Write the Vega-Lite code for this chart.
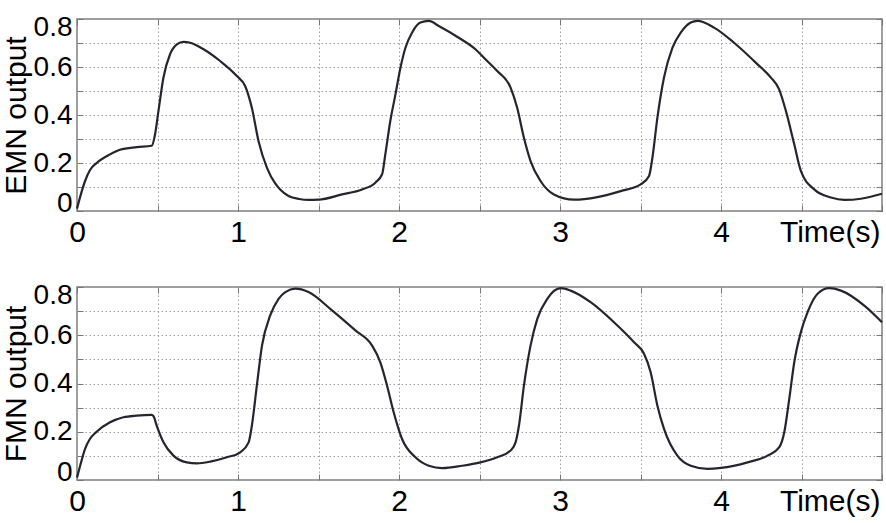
{
  "$schema": "https://vega.github.io/schema/vega-lite/v6.json",
  "padding": {"left": 0, "top": 12, "right": 0, "bottom": 0},
  "bounds": "flush",
  "spacing": 76,
  "background": "white",
  "config": {
    "font": "Liberation Sans",
    "view": {"stroke": "#7f7f7f", "strokeWidth": 1.5},
    "axis": {
      "domain": false,
      "gridColor": "#a0a0a0",
      "gridDash": [1.5, 2.5],
      "gridWidth": 1,
      "tickColor": "#777777",
      "tickSize": -6,
      "labelColor": "#000000",
      "titleColor": "#000000",
      "titleFontWeight": "normal",
      "labelOverlap": false
    }
  },
  "datasets": {
    "emn": [
      {"t": 0, "v": 0.01}, {"t": 0.02, "v": 0.06}, {"t": 0.05, "v": 0.125}, {"t": 0.08, "v": 0.17},
      {"t": 0.122, "v": 0.2}, {"t": 0.205, "v": 0.236}, {"t": 0.267, "v": 0.255}, {"t": 0.371, "v": 0.266},
      {"t": 0.464, "v": 0.272}, {"t": 0.485, "v": 0.32}, {"t": 0.506, "v": 0.417}, {"t": 0.537, "v": 0.556},
      {"t": 0.578, "v": 0.653}, {"t": 0.62, "v": 0.694}, {"t": 0.661, "v": 0.705}, {"t": 0.703, "v": 0.701},
      {"t": 0.786, "v": 0.674}, {"t": 0.889, "v": 0.625}, {"t": 0.993, "v": 0.5625}, {"t": 1.045, "v": 0.52},
      {"t": 1.086, "v": 0.43}, {"t": 1.128, "v": 0.29}, {"t": 1.18, "v": 0.18}, {"t": 1.231, "v": 0.115},
      {"t": 1.262, "v": 0.09}, {"t": 1.314, "v": 0.0625}, {"t": 1.38, "v": 0.05}, {"t": 1.438, "v": 0.046},
      {"t": 1.5, "v": 0.047}, {"t": 1.646, "v": 0.069}, {"t": 1.77, "v": 0.09}, {"t": 1.853, "v": 0.118},
      {"t": 1.895, "v": 0.153}, {"t": 1.915, "v": 0.236}, {"t": 1.946, "v": 0.375}, {"t": 1.978, "v": 0.486},
      {"t": 2.009, "v": 0.597}, {"t": 2.04, "v": 0.68}, {"t": 2.081, "v": 0.743}, {"t": 2.133, "v": 0.785},
      {"t": 2.185, "v": 0.792}, {"t": 2.247, "v": 0.771}, {"t": 2.371, "v": 0.722}, {"t": 2.475, "v": 0.674},
      {"t": 2.537, "v": 0.632}, {"t": 2.61, "v": 0.583}, {"t": 2.693, "v": 0.514}, {"t": 2.734, "v": 0.43},
      {"t": 2.776, "v": 0.305}, {"t": 2.817, "v": 0.208}, {"t": 2.879, "v": 0.125}, {"t": 2.962, "v": 0.069},
      {"t": 3.087, "v": 0.047}, {"t": 3.232, "v": 0.058}, {"t": 3.377, "v": 0.083}, {"t": 3.501, "v": 0.111},
      {"t": 3.553, "v": 0.146}, {"t": 3.574, "v": 0.222}, {"t": 3.605, "v": 0.389}, {"t": 3.646, "v": 0.556},
      {"t": 3.698, "v": 0.68}, {"t": 3.75, "v": 0.743}, {"t": 3.812, "v": 0.785}, {"t": 3.854, "v": 0.792},
      {"t": 3.957, "v": 0.764}, {"t": 4.081, "v": 0.701}, {"t": 4.227, "v": 0.611}, {"t": 4.31, "v": 0.556},
      {"t": 4.361, "v": 0.507}, {"t": 4.403, "v": 0.417}, {"t": 4.455, "v": 0.278}, {"t": 4.496, "v": 0.167},
      {"t": 4.579, "v": 0.09}, {"t": 4.683, "v": 0.056}, {"t": 4.766, "v": 0.046}, {"t": 4.869, "v": 0.051},
      {"t": 5.0, "v": 0.072}
    ],
    "fmn": [
      {"t": 0, "v": 0.01}, {"t": 0.02, "v": 0.06}, {"t": 0.05, "v": 0.129}, {"t": 0.08, "v": 0.17},
      {"t": 0.122, "v": 0.2}, {"t": 0.205, "v": 0.239}, {"t": 0.288, "v": 0.26}, {"t": 0.371, "v": 0.267},
      {"t": 0.464, "v": 0.27}, {"t": 0.475, "v": 0.265}, {"t": 0.495, "v": 0.225}, {"t": 0.537, "v": 0.156},
      {"t": 0.599, "v": 0.101}, {"t": 0.682, "v": 0.073}, {"t": 0.744, "v": 0.069}, {"t": 0.827, "v": 0.076},
      {"t": 0.931, "v": 0.094}, {"t": 1.014, "v": 0.115}, {"t": 1.066, "v": 0.156}, {"t": 1.086, "v": 0.225},
      {"t": 1.117, "v": 0.391}, {"t": 1.149, "v": 0.557}, {"t": 1.2, "v": 0.682}, {"t": 1.252, "v": 0.751},
      {"t": 1.294, "v": 0.779}, {"t": 1.356, "v": 0.793}, {"t": 1.438, "v": 0.779}, {"t": 1.584, "v": 0.703},
      {"t": 1.729, "v": 0.62}, {"t": 1.833, "v": 0.557}, {"t": 1.884, "v": 0.488}, {"t": 1.926, "v": 0.391},
      {"t": 1.967, "v": 0.281}, {"t": 2.019, "v": 0.17}, {"t": 2.102, "v": 0.094}, {"t": 2.185, "v": 0.059},
      {"t": 2.268, "v": 0.049}, {"t": 2.392, "v": 0.059}, {"t": 2.506, "v": 0.073}, {"t": 2.61, "v": 0.094},
      {"t": 2.693, "v": 0.122}, {"t": 2.724, "v": 0.156}, {"t": 2.745, "v": 0.225}, {"t": 2.776, "v": 0.391},
      {"t": 2.817, "v": 0.557}, {"t": 2.859, "v": 0.668}, {"t": 2.921, "v": 0.751}, {"t": 3.004, "v": 0.795},
      {"t": 3.066, "v": 0.785}, {"t": 3.19, "v": 0.737}, {"t": 3.335, "v": 0.654}, {"t": 3.46, "v": 0.571},
      {"t": 3.522, "v": 0.523}, {"t": 3.563, "v": 0.447}, {"t": 3.605, "v": 0.308}, {"t": 3.646, "v": 0.212},
      {"t": 3.729, "v": 0.101}, {"t": 3.812, "v": 0.059}, {"t": 3.916, "v": 0.046}, {"t": 3.999, "v": 0.05},
      {"t": 4.165, "v": 0.073}, {"t": 4.289, "v": 0.101}, {"t": 4.361, "v": 0.135}, {"t": 4.393, "v": 0.198},
      {"t": 4.424, "v": 0.336}, {"t": 4.455, "v": 0.488}, {"t": 4.496, "v": 0.613}, {"t": 4.538, "v": 0.696},
      {"t": 4.6, "v": 0.772}, {"t": 4.672, "v": 0.795}, {"t": 4.745, "v": 0.785}, {"t": 4.89, "v": 0.723},
      {"t": 5.0, "v": 0.654}
    ]
  },
  "vconcat": [
    {
      "width": 805,
      "height": 192,
      "data": {"name": "emn"},
      "layer": [
        {
          "mark": {"type": "line", "color": "#25252f", "strokeWidth": 2.2, "interpolate": "monotone"},
          "encoding": {
            "x": {"field": "t", "type": "quantitative", "scale": {"domain": [0, 5], "nice": false, "zero": false},
              "axis": {"orient": "bottom", "values": [0, 0.5, 1, 1.5, 2, 2.5, 3, 3.5, 4, 4.5, 5], "format": "~g",
                "grid": true, "labelPadding": 12, "labelFontSize": 30, "labelFlush": false,
                "labelExpr": "datum.value % 1 === 0 && datum.value < 5 ? datum.label : ''",
                "title": "Time(s)", "titleFontSize": 30, "titleX": 803, "titleY": 30.5, "titleAlign": "right", "titleBaseline": "alphabetic"}},
            "y": {"field": "v", "type": "quantitative", "scale": {"domain": [0, 0.8], "nice": false},
              "axis": {"orient": "left", "values": [0, 0.1, 0.2, 0.3, 0.4, 0.5, 0.6, 0.7, 0.8], "format": "~g",
                "grid": true, "labelPadding": 11, "labelFontSize": 28, "labelFlush": true, "labelFlushOffset": 6,
                "labelExpr": "round(datum.value * 10) % 2 === 0 ? datum.label : ''",
                "title": "EMN output", "titleFontSize": 30, "titleAngle": -90, "titleX": -52, "titleY": 96, "titleAlign": "center", "titleBaseline": "alphabetic"}}
          }
        },
        {
          "mark": {"type": "line", "opacity": 0},
          "encoding": {
            "x": {"field": "t", "type": "quantitative", "scale": {"domain": [0, 5], "nice": false, "zero": false},
              "axis": {"orient": "top", "values": [0, 0.5, 1, 1.5, 2, 2.5, 3, 3.5, 4, 4.5, 5], "grid": false, "labels": false, "title": null}},
            "y": {"field": "v", "type": "quantitative", "scale": {"domain": [0, 0.8], "nice": false},
              "axis": {"orient": "right", "values": [0, 0.1, 0.2, 0.3, 0.4, 0.5, 0.6, 0.7, 0.8], "grid": false, "labels": false, "title": null}}
          }
        }
      ],
      "resolve": {"axis": {"x": "independent", "y": "independent"}}
    },
    {
      "width": 805,
      "height": 193,
      "data": {"name": "fmn"},
      "layer": [
        {
          "mark": {"type": "line", "color": "#25252f", "strokeWidth": 2.2, "interpolate": "monotone"},
          "encoding": {
            "x": {"field": "t", "type": "quantitative", "scale": {"domain": [0, 5], "nice": false, "zero": false},
              "axis": {"orient": "bottom", "values": [0, 0.5, 1, 1.5, 2, 2.5, 3, 3.5, 4, 4.5, 5], "format": "~g",
                "grid": true, "labelPadding": 12, "labelFontSize": 30, "labelFlush": false,
                "labelExpr": "datum.value % 1 === 0 && datum.value < 5 ? datum.label : ''",
                "title": "Time(s)", "titleFontSize": 30, "titleX": 803, "titleY": 30.5, "titleAlign": "right", "titleBaseline": "alphabetic"}},
            "y": {"field": "v", "type": "quantitative", "scale": {"domain": [0, 0.8], "nice": false},
              "axis": {"orient": "left", "values": [0, 0.1, 0.2, 0.3, 0.4, 0.5, 0.6, 0.7, 0.8], "format": "~g",
                "grid": true, "labelPadding": 11, "labelFontSize": 28, "labelFlush": true, "labelFlushOffset": 6,
                "labelExpr": "round(datum.value * 10) % 2 === 0 ? datum.label : ''",
                "title": "FMN output", "titleFontSize": 30, "titleAngle": -90, "titleX": -52, "titleY": 96.5, "titleAlign": "center", "titleBaseline": "alphabetic"}}
          }
        },
        {
          "mark": {"type": "line", "opacity": 0},
          "encoding": {
            "x": {"field": "t", "type": "quantitative", "scale": {"domain": [0, 5], "nice": false, "zero": false},
              "axis": {"orient": "top", "values": [0, 0.5, 1, 1.5, 2, 2.5, 3, 3.5, 4, 4.5, 5], "grid": false, "labels": false, "title": null}},
            "y": {"field": "v", "type": "quantitative", "scale": {"domain": [0, 0.8], "nice": false},
              "axis": {"orient": "right", "values": [0, 0.1, 0.2, 0.3, 0.4, 0.5, 0.6, 0.7, 0.8], "grid": false, "labels": false, "title": null}}
          }
        }
      ],
      "resolve": {"axis": {"x": "independent", "y": "independent"}}
    }
  ]
}
